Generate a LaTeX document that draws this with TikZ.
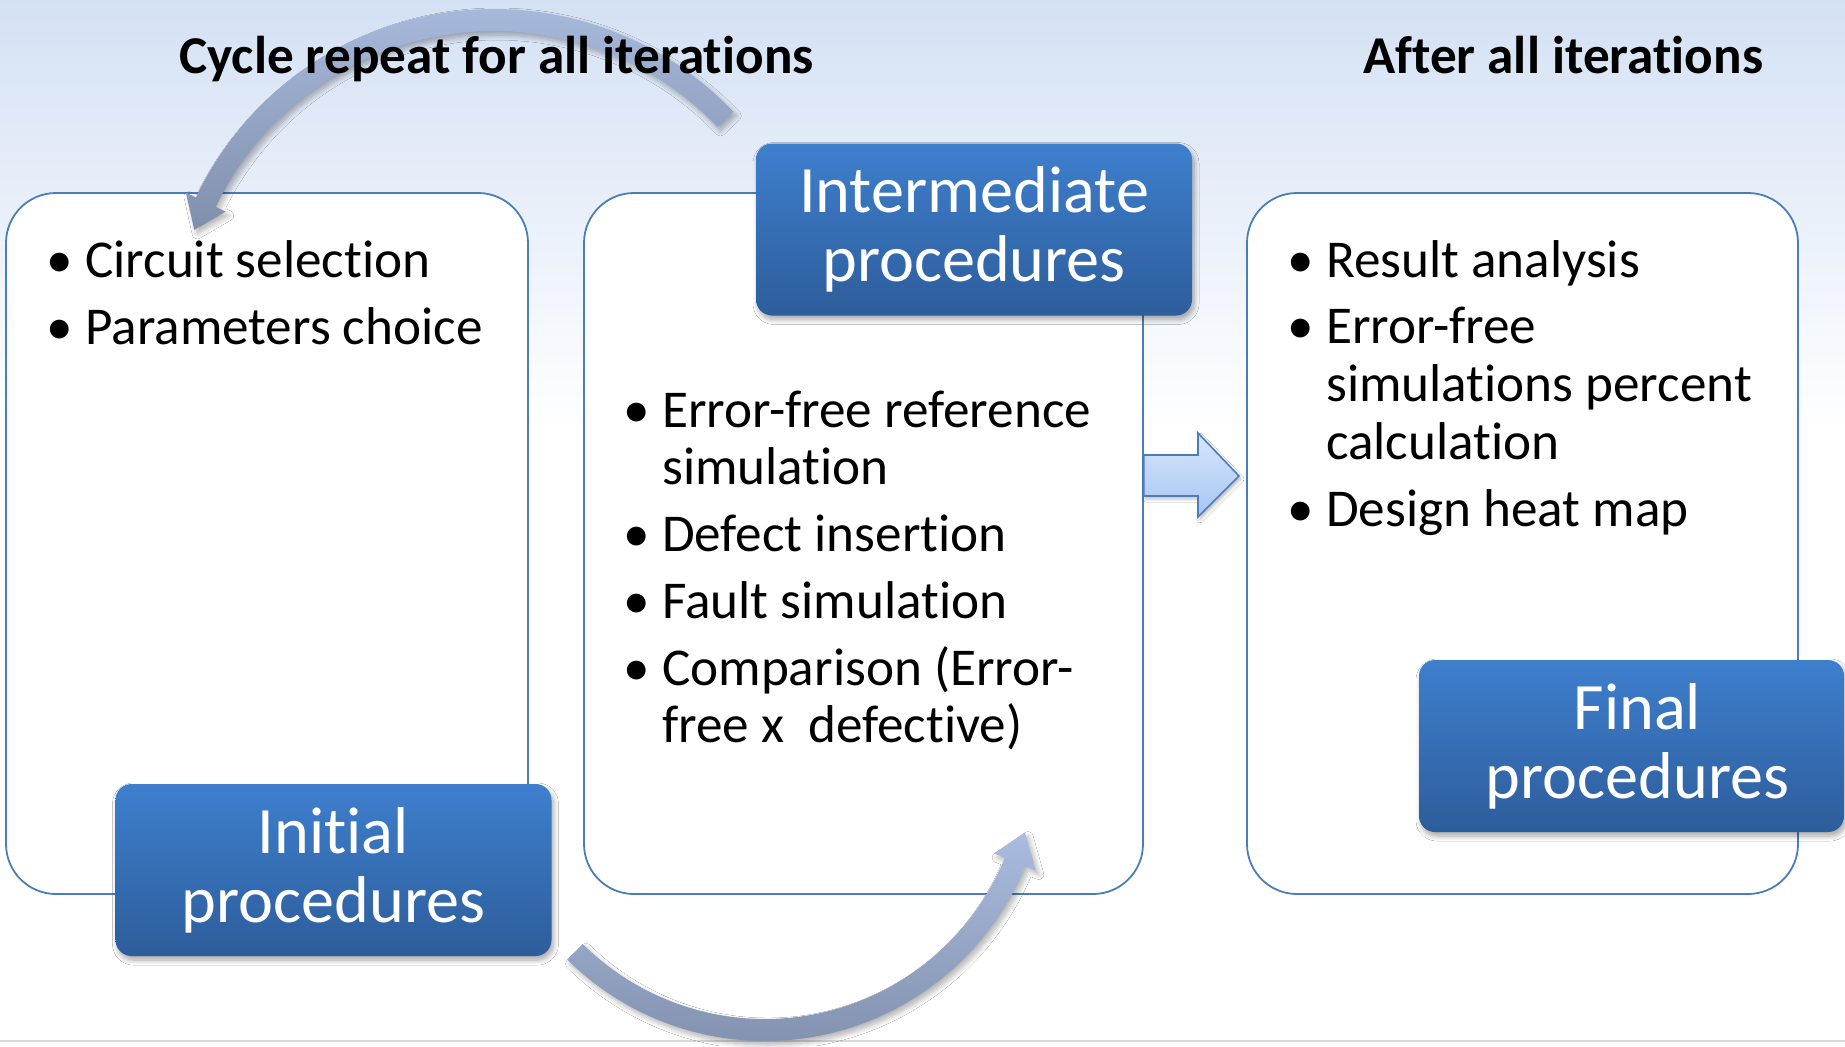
\documentclass[tikz,border=0pt]{standalone}
\usepackage{fontspec}
\setmainfont{Carlito}[Ligatures=NoCommon]
\usetikzlibrary{calc,shadows.blur}

\definecolor{bgtop}{HTML}{D4E1F4}
\definecolor{boxline}{HTML}{4A7EBB}
\definecolor{tagtop}{HTML}{3E7FCD}
\definecolor{tagbot}{HTML}{2D5D9B}
\definecolor{looptop}{HTML}{AABCDF}
\definecolor{loopbot}{HTML}{808FAC}
\definecolor{flowtop}{HTML}{D8E6FC}
\definecolor{flowbot}{HTML}{A6C4F3}
\definecolor{rulegray}{HTML}{DADADA}

% bullet hung to the left of the item text
\newcommand\listdot{\leavevmode\llap{\makebox[50bp]{•}}}

\tikzset{
  panel/.style={draw=boxline, line width=1.8bp, fill=white, rounded corners=50bp,
    minimum height=701bp, inner sep=0pt},
  tag/.style={rounded corners=16bp, top color=tagtop, bottom color=tagbot,
    minimum width=436bp, minimum height=172bp, inner sep=0pt, align=center,
    text=white, font=\fontsize{66.5}{69}\selectfont,
    blur shadow={shadow xshift=2bp, shadow yshift=-4bp, shadow blur steps=8,
      shadow blur radius=5bp, shadow opacity=35}},
  heading/.style={anchor=base west, inner sep=0pt,
    font=\fontsize{53.4}{58}\selectfont\bfseries},
  itemlist/.style={anchor=base west, inner sep=0pt,
    font=\fontsize{53.4}{58}\selectfont},
  loopband/.style={top color=looptop, bottom color=loopbot,
    blur shadow={shadow xshift=3bp, shadow yshift=-4bp, shadow blur steps=8,
      shadow blur radius=5bp, shadow opacity=30}},
  flowarrow/.style={draw=boxline, line width=1.6bp, line join=miter,
    top color=flowtop, bottom color=flowbot,
    blur shadow={shadow xshift=2bp, shadow yshift=-3bp, shadow blur steps=6,
      shadow blur radius=3bp, shadow opacity=25}},
}

\begin{document}
\begin{tikzpicture}[x=1bp, y=-1bp]
\useasboundingbox (0,0) rectangle (1845,1046);

% slide background
\fill[white] (0,0) rectangle (1845,1046);
\shade[top color=bgtop, bottom color=white] (0,0) rectangle (1845,430);
\draw[rulegray, line width=2.5bp] (0,1041) -- (1845,1041);

% the three stage panels
\node[panel, minimum width=522bp] (initpanel) at (267,543.5) {};
\node[panel, minimum width=559bp] (midpanel) at (863.5,543.5) {};
\node[panel, minimum width=551bp] (finalpanel) at (1522.5,543.5) {};

% block arrow from the middle panel towards the final panel
\coordinate (flowtail) at (midpanel.east |- 0,476);
\coordinate (flowtip) at (1239,476);
\draw[flowarrow] ($(flowtail)+(0,-21)$) -- ($(flowtip)+(-41,-21)$)
  -- ($(flowtip)+(-41,-43)$) -- (flowtip) -- ($(flowtip)+(-41,41)$)
  -- ($(flowtip)+(-41,20)$) -- ($(flowtail)+(0,20)$) -- cycle;

% stage labels
\node[tag] (inittag) at (333.5,870) {Initial\\procedures};
\node[tag] (midtag) at (974,229.5) {Intermediate\\procedures};
\node[tag, minimum width=425bp] (finaltag) at (1631.5,746)
  {\hspace*{12bp}Final\\\hspace*{12bp}procedures};

% panel contents
\node[itemlist] (initlist) at (85,277) {\parbox[t]{440bp}{%
  \listdot Circuit selection\\[10bp]
  \listdot Parameters choice}};
\node[itemlist] (midlist) at (662,427) {\parbox[t]{470bp}{%
  \listdot Error-free reference\\simulation\\[9bp]
  \listdot Defect insertion\\[9bp]
  \listdot Fault simulation\\[9bp]
  \listdot Comparison (Error-\\free x~ defective)}};
\node[itemlist] (finallist) at (1326,277) {\parbox[t]{470bp}{%
  \listdot Result analysis\\[9bp]
  \listdot Error-free\\simulations percent\\calculation\\[9bp]
  \listdot Design heat map}};

% upper loop: back from the intermediate stage to the initial stage
\coordinate (loopA) at (494,339);
\begin{scope}[shift={(loopA)}]
  \path[loopband] (-43.5:330) arc[start angle=-43.5, end angle=-154.6, radius=330]
    -- (-154.6:341) -- (-160:319) -- (-154.6:297) -- (-154.6:308)
    arc[start angle=-154.6, end angle=-43.5, radius=308] -- cycle;
\end{scope}

% lower loop: from the initial stage into the intermediate stage
\coordinate (loopB) at (765,760);
\begin{scope}[shift={(loopB)}]
  \path[loopband] (134.7:281) arc[start angle=134.7, end angle=22.2, radius=281]
    -- (22.2:292.5) -- (15.6:270) -- (22.2:247.5) -- (22.2:259)
    arc[start angle=22.2, end angle=134.7, radius=259] -- cycle;
\end{scope}

% headings
\node[heading] (cycletitle) at (179,73) {Cycle repeat for all iterations};
\node[heading] (aftertitle) at (1363,73) {After all iterations};
\end{tikzpicture}
\end{document}
